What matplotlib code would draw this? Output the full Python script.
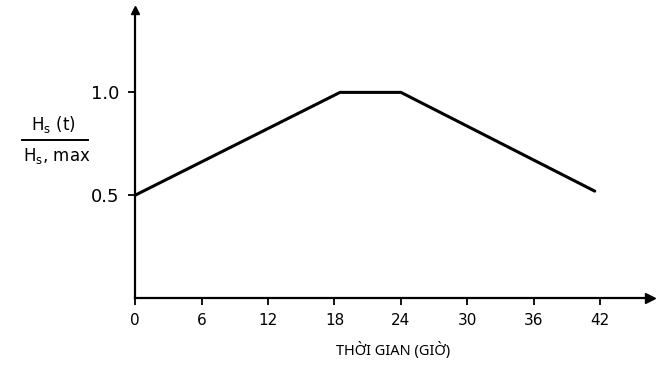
import matplotlib
matplotlib.use('Agg')
import matplotlib.pyplot as plt
from matplotlib.lines import Line2D

# du lieu
gio = [0, 18.5, 24, 41.5]
ti_so = [0.5, 1.0, 1.0, 0.52]
x_ticks = [0, 6, 12, 18, 24, 30, 36, 42]
y_ticks = [0.5, 1.0]
y_labels = ['0.5', '1.0']
x_title = 'TH\u1edcI GIAN (GI\u1edc)'

plt.rcParams['font.family'] = ['DejaVu Sans']

fig = plt.figure(figsize=(6.56, 3.74), dpi=100)
ax = fig.add_axes([0.206, 0.203, 0.785, 0.77])

ax.plot(gio, ti_so, color='black', lw=2.2, solid_capstyle='round')

ax.set_xlim(0, 46.5)
ax.set_ylim(0, 1.40)
ax.spines['top'].set_visible(False)
ax.spines['right'].set_visible(False)
ax.spines['left'].set_linewidth(1.6)
ax.spines['bottom'].set_linewidth(1.6)

ax.set_xticks(x_ticks)
ax.set_xticklabels([str(v) for v in x_ticks], fontsize=11)
ax.set_yticks(y_ticks)
ax.set_yticklabels(y_labels, fontsize=13)
ax.tick_params(axis='both', direction='out', length=5, width=1.3, pad=6)

# mui ten cuoi truc
ax.plot(1, 0, marker='>', color='black', ms=7, transform=ax.transAxes, clip_on=False)
ax.plot(0, 1, marker='^', color='black', ms=6, transform=ax.transAxes, clip_on=False)

ax.set_xlabel(x_title, fontsize=10.5, labelpad=10, family=['Noto Sans', 'DejaVu Sans'])

# nhan truc tung dang phan so
fig.text(0.082, 0.64, r'H$_\mathrm{s}$ (t)', ha='center', va='bottom', fontsize=12)
fig.text(0.087, 0.61, r'H$_\mathrm{s}$, max', ha='center', va='top', fontsize=12)
fig.add_artist(Line2D([0.034, 0.134], [0.626, 0.626], color='black', lw=1.4))

fig.savefig('out.png', dpi=100)
